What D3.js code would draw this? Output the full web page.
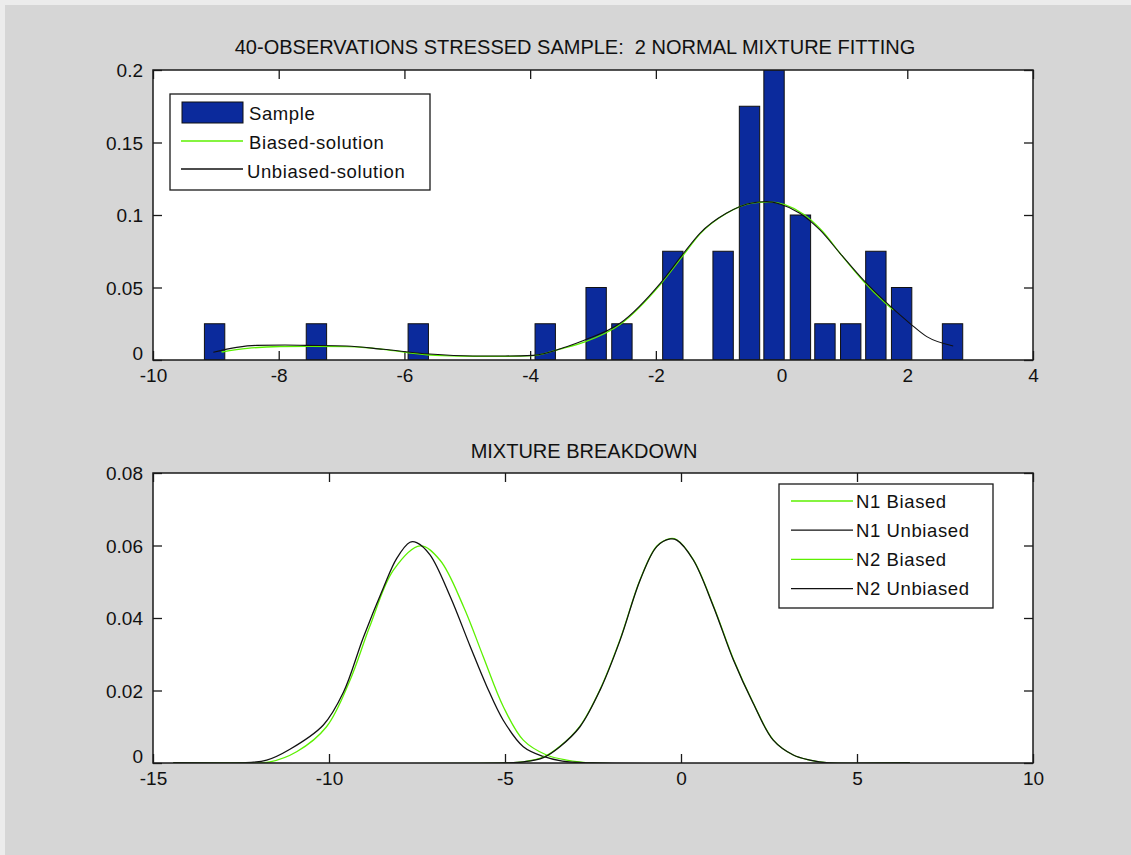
<!DOCTYPE html>
<html>
<head>
<meta charset="utf-8">
<script src="https://cdn.jsdelivr.net/npm/d3@7"></script>
<style>
  body { margin: 0; background: #ececec; }
  text { font-family: "Liberation Sans", Arial, sans-serif; fill: #111; }
</style>
</head>
<body>
<div id="chart"></div>
<script>
const [width, height] = [1131, 855];

// ---- top panel data (histogram of the 40 observations)
const binCenters  = [-9.02, -7.40, -5.78, -3.76, -2.95, -2.54, -1.73, -0.93, -0.51, -0.12, 0.30, 0.69, 1.10, 1.50, 1.91, 2.72];
const binFreqs    = [0.025, 0.025, 0.025, 0.025, 0.05, 0.025, 0.075, 0.075, 0.175, 0.2, 0.1, 0.025, 0.025, 0.075, 0.05, 0.025];

const unbiasedX = [-9.04, -8.67, -8.35, -7.9, -7.56, -6.92, -6.34, -5.6, -4.91, -4.4, -3.95, -3.42, -3.13, -2.57, -1.93, -1.56, -1.30, -0.88, -0.45, -0.24, -0.03, 0.29, 0.61, 0.93, 1.30, 1.62, 2.04, 2.31, 2.73];
const unbiasedY = [0.0053, 0.0087, 0.0101, 0.0103, 0.0101, 0.0097, 0.0074, 0.0041, 0.0028, 0.0028, 0.0032, 0.0092, 0.0138, 0.0253, 0.0529, 0.0736, 0.0874, 0.1012, 0.1085, 0.1092, 0.1076, 0.1012, 0.0897, 0.0736, 0.0552, 0.0414, 0.0253, 0.0161, 0.0097];

const biasedX = [-8.91, -8.5, -7.98, -7.5, -6.9, -6.3, -5.93, -5.4, -4.85, -4.4, -3.95, -3.53, -3.13, -2.57, -1.93, -1.56, -1.30, -0.88, -0.45, -0.20, 0.05, 0.35, 0.65, 0.95, 1.30, 1.62, 1.78];
const biasedY = [0.0055, 0.0080, 0.0093, 0.0095, 0.0092, 0.0072, 0.0050, 0.0030, 0.0025, 0.0025, 0.0030, 0.0075, 0.0125, 0.0245, 0.0520, 0.0725, 0.0868, 0.1010, 0.1083, 0.1090, 0.1072, 0.1005, 0.0888, 0.0725, 0.0545, 0.0405, 0.0345];

const topXTicks = [-10, -8, -6, -4, -2, 0, 2, 4];
const topYTicks = [0, 0.05, 0.1, 0.15, 0.2];
const topLegend = ["Sample", "Biased-solution", "Unbiased-solution"];

// ---- bottom panel data (the two normal components)
const n1UnbX = [-14.42, -12.5, -11.77, -11.11, -10.16, -9.59, -9.03, -8.46, -8.08, -7.70, -7.51, -7.13, -6.56, -5.99, -5.52, -5.05, -4.48, -3.91, -3.37, -2.5, 6.5];
const n1UnbY = [0, 0, 0.0008, 0.0038, 0.0105, 0.0195, 0.0345, 0.0482, 0.0564, 0.0609, 0.0608, 0.0574, 0.0460, 0.0322, 0.0212, 0.0118, 0.0045, 0.0018, 0.0005, 0, 0];

const n1BiaX = [-14.42, -12.5, -11.68, -10.92, -10.07, -9.40, -8.84, -8.17, -7.41, -6.85, -6.18, -5.62, -5.05, -4.48, -3.82, -3.25, -2.5, 6.5];
const n1BiaY = [0, 0, 0.0003, 0.0031, 0.0100, 0.0229, 0.0377, 0.0532, 0.0599, 0.0560, 0.0432, 0.0294, 0.0156, 0.0063, 0.0022, 0.0008, 0, 0];

const n2UnbX = [-14.42, -5, -4.48, -3.91, -3.44, -2.87, -2.30, -1.73, -1.16, -0.69, -0.31, -0.12, 0.35, 0.92, 1.49, 2.05, 2.62, 3.19, 3.66, 4.2, 6.5];
const n2UnbY = [0, 0, 0.0003, 0.0015, 0.0045, 0.0100, 0.0201, 0.0339, 0.0505, 0.0597, 0.0618, 0.0615, 0.0560, 0.0432, 0.0284, 0.0165, 0.0063, 0.0022, 0.0008, 0, 0];

const n2BiaX = [-14.42, -5, -4.48, -3.91, -3.44, -2.87, -2.30, -1.73, -1.16, -0.69, -0.31, -0.12, 0.35, 0.92, 1.49, 2.05, 2.62, 3.19, 3.66, 4.2, 6.5];
const n2BiaY = [0, 0, 0.0003, 0.0016, 0.0046, 0.0102, 0.0203, 0.0341, 0.0506, 0.0598, 0.0619, 0.0616, 0.0561, 0.0434, 0.0286, 0.0166, 0.0064, 0.0022, 0.0008, 0, 0];

const botXTicks = [-15, -10, -5, 0, 5, 10];
const botYTicks = [0, 0.02, 0.04, 0.06, 0.08];
const botLegend = ["N1 Biased", "N1 Unbiased", "N2 Biased", "N2 Unbiased"];

// styles
const green = "#5cf000";
const barBlue = "#0b2a9c";
const binWidth = 0.405;

const svg = d3.select("#chart")
  .append("svg")
  .attr("width", width)
  .attr("height", height);

svg.append("rect").attr("x", 5).attr("y", 5)
  .attr("width", width - 5).attr("height", height - 5)
  .attr("fill", "#d6d6d6");

// builds an axes box with inward ticks on all four sides
function make_axes(box, xDomain, yDomain, xTicks, yTicks, id) {
  const x = d3.scaleLinear().domain(xDomain).range([box.left, box.right]);
  const y = d3.scaleLinear().domain(yDomain).range([box.bottom, box.top]);

  svg.append("rect")
    .attr("x", box.left).attr("y", box.top)
    .attr("width", box.right - box.left).attr("height", box.bottom - box.top)
    .attr("fill", "white");

  svg.append("clipPath").attr("id", id)
    .append("rect")
    .attr("x", box.left).attr("y", box.top)
    .attr("width", box.right - box.left).attr("height", box.bottom - box.top);

  const fmt = d => String(d);

  const gx = svg.append("g")
    .attr("transform", `translate(0, ${box.bottom})`)
    .call(d3.axisBottom(x).tickValues(xTicks).tickFormat(fmt).tickSizeInner(-9).tickSizeOuter(0).tickPadding(9));
  const gy = svg.append("g")
    .attr("transform", `translate(${box.left}, 0)`)
    .call(d3.axisLeft(y).tickValues(yTicks).tickFormat(fmt).tickSizeInner(-9).tickSizeOuter(0).tickPadding(10));
  const gt = svg.append("g")
    .attr("transform", `translate(0, ${box.top})`)
    .call(d3.axisTop(x).tickValues(xTicks).tickFormat("").tickSizeInner(-9).tickSizeOuter(0));
  const gr = svg.append("g")
    .attr("transform", `translate(${box.right}, 0)`)
    .call(d3.axisRight(y).tickValues(yTicks).tickFormat("").tickSizeInner(-9).tickSizeOuter(0));

  [gx, gy, gt, gr].forEach(g => {
    g.select(".domain").remove();
    g.selectAll("line").attr("stroke", "#1a1a1a").attr("stroke-width", 1.3);
    g.selectAll("text").style("font-size", "19px").attr("fill", "#111")
      .style("font-family", "'Liberation Sans', Arial, sans-serif");
  });
  // the zero label sits a bit higher, as in the original
  gy.selectAll(".tick").filter(d => d === 0).select("text").attr("dy", "-0.05em");
  gy.selectAll(".tick").filter(d => d !== 0).select("text").attr("dy", "0.36em");

  return [x, y];
}

function draw_frame(box) {
  svg.append("rect")
    .attr("x", box.left).attr("y", box.top)
    .attr("width", box.right - box.left).attr("height", box.bottom - box.top)
    .attr("fill", "none").attr("stroke", "#1a1a1a").attr("stroke-width", 1.5);
}

// ================= TOP PANEL =================
const topBox = { left: 153, right: 1033, top: 70, bottom: 360 };
const [x1, y1] = make_axes(topBox, [-10, 4], [0, 0.2], topXTicks, topYTicks, "clipTop");

const topPlot = svg.append("g").attr("clip-path", "url(#clipTop)");

topPlot.selectAll("rect.bar")
  .data(binCenters.map((c, i) => ({ c: c, f: binFreqs[i] })))
  .enter()
  .append("rect")
  .attr("class", "bar")
  .attr("x", d => x1(d.c - binWidth * 0.4))
  .attr("width", d => x1(d.c + binWidth * 0.4) - x1(d.c - binWidth * 0.4))
  .attr("y", d => y1(d.f))
  .attr("height", d => y1(0) - y1(d.f))
  .attr("fill", barBlue)
  .attr("stroke", "#111")
  .attr("stroke-width", 1);

const line1 = d3.line().x(d => x1(d[0])).y(d => y1(d[1])).curve(d3.curveMonotoneX);

topPlot.append("path")
  .datum(biasedX.map((v, i) => [v, biasedY[i]]))
  .attr("d", line1)
  .attr("fill", "none").attr("stroke", green).attr("stroke-width", 1.3);

topPlot.append("path")
  .datum(unbiasedX.map((v, i) => [v, unbiasedY[i]]))
  .attr("d", line1)
  .attr("fill", "none").attr("stroke", "#111").attr("stroke-width", 1.1);

draw_frame(topBox);

svg.append("text")
  .attr("x", 575).attr("y", 54)
  .attr("text-anchor", "middle")
  .style("font-size", "20px")
  .style("white-space", "pre")
  .text("40-OBSERVATIONS STRESSED SAMPLE:  2 NORMAL MIXTURE FITTING");

// legend
const leg1 = svg.append("g");
leg1.append("rect")
  .attr("x", 170).attr("y", 94).attr("width", 260).attr("height", 96)
  .attr("fill", "white").attr("stroke", "#1a1a1a").attr("stroke-width", 1.3);
leg1.append("rect")
  .attr("x", 182).attr("y", 102).attr("width", 61).attr("height", 21)
  .attr("fill", barBlue).attr("stroke", "#111");
leg1.append("line").attr("x1", 181).attr("x2", 243).attr("y1", 141).attr("y2", 141)
  .attr("stroke", green).attr("stroke-width", 1.3);
leg1.append("line").attr("x1", 181).attr("x2", 243).attr("y1", 169).attr("y2", 169)
  .attr("stroke", "#111").attr("stroke-width", 1.3);
leg1.selectAll("text")
  .data(topLegend)
  .enter()
  .append("text")
  .attr("x", (d, i) => i === 2 ? 247 : 249)
  .attr("y", (d, i) => 113 + i * 29)
  .attr("dy", "0.36em")
  .style("font-size", "18.5px")
  .style("letter-spacing", "0.6px")
  .text(d => d);

// ================= BOTTOM PANEL =================
const botBox = { left: 153, right: 1033, top: 473, bottom: 763 };
const [x2, y2] = make_axes(botBox, [-15, 10], [0, 0.08], botXTicks, botYTicks, "clipBot");

const botPlot = svg.append("g").attr("clip-path", "url(#clipBot)");
const line2 = d3.line().x(d => x2(d[0])).y(d => y2(d[1])).curve(d3.curveCatmullRom.alpha(0.5));

const comps = [
  { xs: n1BiaX, ys: n1BiaY, color: green },
  { xs: n1UnbX, ys: n1UnbY, color: "#111" },
  { xs: n2BiaX, ys: n2BiaY, color: green },
  { xs: n2UnbX, ys: n2UnbY, color: "#111" }
];

botPlot.selectAll("path.comp")
  .data(comps)
  .enter()
  .append("path")
  .attr("class", "comp")
  .attr("d", d => line2(d.xs.map((v, i) => [v, d.ys[i]])))
  .attr("fill", "none")
  .attr("stroke", d => d.color)
  .attr("stroke-width", 1.3);

draw_frame(botBox);

svg.append("text")
  .attr("x", 584).attr("y", 458)
  .attr("text-anchor", "middle")
  .style("font-size", "20px")
  .text("MIXTURE BREAKDOWN");

const leg2 = svg.append("g");
leg2.append("rect")
  .attr("x", 779).attr("y", 484).attr("width", 214).attr("height", 124)
  .attr("fill", "white").attr("stroke", "#1a1a1a").attr("stroke-width", 1.3);
const legRows = botLegend.map((t, i) => ({ t: t, color: comps[i].color, y: 501 + i * 29.2 }));
leg2.selectAll("line")
  .data(legRows)
  .enter()
  .append("line")
  .attr("x1", 791).attr("x2", 853)
  .attr("y1", d => d.y).attr("y2", d => d.y)
  .attr("stroke", d => d.color).attr("stroke-width", 1.3);
leg2.selectAll("text")
  .data(legRows)
  .enter()
  .append("text")
  .attr("x", 856)
  .attr("y", d => d.y)
  .attr("dy", "0.36em")
  .style("font-size", "18.5px")
  .style("letter-spacing", "0.6px")
  .text(d => d.t);
</script>
</body>
</html>
